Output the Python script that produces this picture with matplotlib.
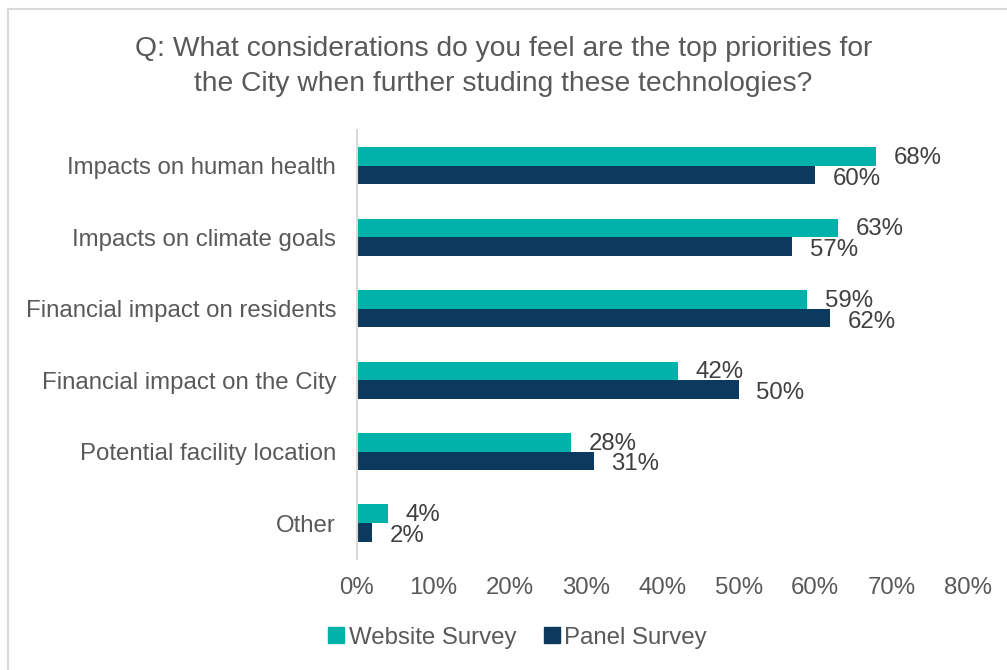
import matplotlib.pyplot as plt
import numpy as np
from matplotlib.lines import Line2D

plt.rcParams['font.family'] = ['Liberation Sans', 'DejaVu Sans']

categories = ["Impacts on human health", "Impacts on climate goals", "Financial impact on residents",
              "Financial impact on the City", "Potential facility location", "Other"]
website = [68, 63, 59, 42, 28, 4]
panel = [60, 57, 62, 50, 31, 2]
ticks = [0, 10, 20, 30, 40, 50, 60, 70, 80]
title_lines = ['Q: What considerations do you feel are the top priorities for',
               'the City when further studing these technologies?']

teal = '#00B2A9'
navy = '#0B3A5E'
grey = '#595959'
fs = 17.3

fig = plt.figure(figsize=(10.07, 6.70), dpi=100)
ax = fig.add_axes([0.3545, 0.166, 0.6065, 0.640])

y = np.arange(len(categories))
h = 0.26
ax.barh(y - h / 2, website, height=h, color=teal, label='Website Survey')
ax.barh(y + h / 2, panel, height=h, color=navy, label='Panel Survey')

for yi, w, p in zip(y, website, panel):
    ax.text(w + 2.3, yi - h / 2 + 0.02, f'{w}%', va='center', ha='left', fontsize=fs, color='#404040')
    ax.text(p + 2.3, yi + h / 2 + 0.05, f'{p}%', va='center', ha='left', fontsize=fs, color='#404040')

ax.set_xlim(0, 80)
ax.set_ylim(len(categories) - 0.5, -0.5)
ax.set_xticks(ticks)
ax.set_xticklabels([f'{t}%' for t in ticks])
ax.set_yticks(y)
ax.set_yticklabels(categories)
ax.tick_params(axis='both', length=0, labelsize=fs, colors=grey)
ax.tick_params(axis='x', pad=13)
ax.tick_params(axis='y', pad=15)
for s in ['top', 'right', 'bottom']:
    ax.spines[s].set_visible(False)
ax.spines['left'].set_color('#D9D9D9')
ax.spines['left'].set_linewidth(1.5)

# two-line title, each line placed on its own
for ty, line in zip([0.927, 0.875], title_lines):
    fig.text(0.5, ty, line, ha='center', va='center', fontsize=20.3, color=grey)

handles = [Line2D([], [], marker='s', linestyle='', color=teal, markersize=11),
           Line2D([], [], marker='s', linestyle='', color=navy, markersize=11)]
fig.legend(handles, ['Website Survey', 'Panel Survey'], loc='center', bbox_to_anchor=(0.512, 0.048),
           ncol=2, frameon=False, fontsize=fs, labelcolor=grey, handletextpad=0.0,
           columnspacing=1.0, handlelength=1.0)

# light frame on the left and top edges
fig.add_artist(Line2D([8 / 1007, 8 / 1007], [0, 1 - 9 / 670], color='#D9D9D9', lw=1.5))
fig.add_artist(Line2D([8 / 1007, 1], [1 - 9 / 670, 1 - 9 / 670], color='#D9D9D9', lw=1.5))

fig.savefig('out.png', dpi=100)
